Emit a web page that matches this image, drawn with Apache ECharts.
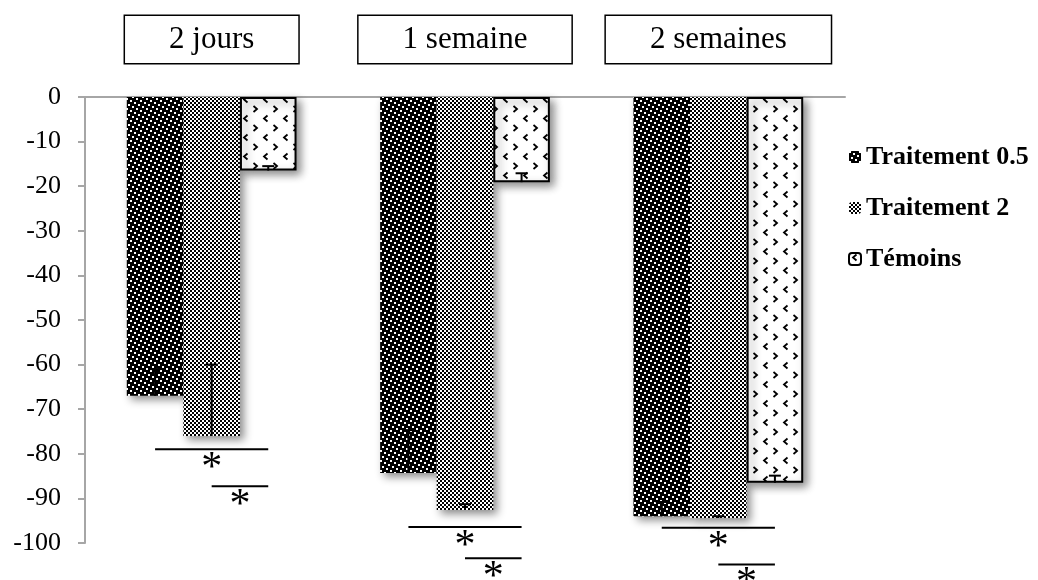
<!DOCTYPE html>
<html>
<head>
<meta charset="utf-8">
<script src="https://cdn.jsdelivr.net/npm/echarts@6/dist/echarts.min.js"></script>
<style>
  html, body { margin: 0; padding: 0; background: #fff; }
  #chart { width: 1038px; height: 580px; }
</style>
</head>
<body>
<div id="chart"></div>
<script>
// categories and values
const periods = ['2 jours', '1 semaine', '2 semaines'];
const seriesNames = ['Traitement 0.5', 'Traitement 2', 'Témoins'];
const traitement05 = [-67, -84.3, -94];
const traitement2 = [-76, -92.6, -94.4];
const temoins = [-16.5, -19.1, -86.5];
// error bars (drawn towards zero)
const err05 = [6, 9.6, 3.2];
const err2 = [16, 1.3, 0.4];
const errTem = [1, 2, 1.6];
// significance brackets: category, from bar, to bar, level
const sigCat = [0, 0, 1, 1, 2, 2];
const sigFrom = [0, 1, 0, 1, 0, 1];
const sigTo = [2, 2, 2, 2, 2, 2];
const sigLevel = [-79, -87.3, -96.4, -103.4, -96.6, -104.8];
const yTicks = { min: -100, max: 0, interval: 10 };

const GAP = 0.33;
const FONT = '"Liberation Serif", "Times New Roman", serif';

function makeCanvas(w, h, draw) {
  const c = document.createElement('canvas');
  c.width = w; c.height = h;
  const ctx = c.getContext('2d');
  ctx.fillStyle = '#fff';
  ctx.fillRect(0, 0, w, h);
  draw(ctx);
  return c;
}

function cellPattern(rows, cell) {
  return makeCanvas(rows[0].length * cell, rows.length * cell, ctx => {
    ctx.fillStyle = '#000';
    rows.forEach((r, y) => [...r].forEach((ch, x) => {
      if (ch === '1') ctx.fillRect(x * cell, y * cell, cell, cell);
    }));
  });
}

const darkPat = cellPattern(['01111', '11011', '11110', '10111', '11101'], 2);
const checkPat = cellPattern(['10', '01'], 2);
const dotPat = makeCanvas(20, 19, ctx => {
  ctx.strokeStyle = '#000';
  ctx.lineWidth = 1.8;
  ctx.beginPath();
  ctx.moveTo(7.5, 1.5); ctx.lineTo(4, 4.5); ctx.lineTo(7.5, 7.5);
  ctx.moveTo(13.5, 11); ctx.lineTo(17, 14); ctx.lineTo(13.5, 17);
  ctx.stroke();
});

const shadow = { shadowBlur: 8, shadowOffsetX: 4, shadowOffsetY: 4, shadowColor: 'rgba(0,0,0,0.45)' };

function barSeries(name, data, pat, border) {
  return {
    name: name,
    type: 'bar',
    data: data,
    barGap: '0%',
    barCategoryGap: (GAP * 100) + '%',
    itemStyle: Object.assign({
      color: { image: pat, repeat: 'repeat' },
      borderColor: '#000',
      borderWidth: border
    }, shadow),
    z: 2
  };
}

function errorSeries(idx, vals, errs) {
  return {
    type: 'custom',
    data: vals.map((v, i) => [i, v, errs[i]]),
    z: 5,
    clip: false,
    renderItem: (params, api) => {
      const cat = api.value(0), v = api.value(1), e = api.value(2);
      const bw = api.size([1, 0])[0] * (1 - GAP) / 3;
      const p0 = api.coord([cat, v]);
      const p1 = api.coord([cat, v + e]);
      const x = p0[0] + (idx - 1) * bw;
      const st = { stroke: '#000', lineWidth: 2 };
      return {
        type: 'group',
        children: [
          { type: 'line', shape: { x1: x, y1: p0[1], x2: x, y2: p1[1] }, style: st },
          { type: 'line', shape: { x1: x - 6, y1: p1[1], x2: x + 6, y2: p1[1] }, style: st }
        ]
      };
    }
  };
}

const sigSeries = {
  type: 'custom',
  data: sigCat.map((c, i) => [c, sigFrom[i], sigTo[i], sigLevel[i]]),
  z: 6,
  clip: false,
  renderItem: (params, api) => {
    const c = api.value(0);
    const bw = api.size([1, 0])[0] * (1 - GAP) / 3;
    const p = api.coord([c, api.value(3)]);
    const x1 = p[0] + (api.value(1) - 1) * bw;
    const x2 = p[0] + (api.value(2) - 1) * bw;
    return {
      type: 'group',
      children: [
        { type: 'line', shape: { x1: x1, y1: p[1], x2: x2, y2: p[1] }, style: { stroke: '#000', lineWidth: 2 } },
        { type: 'text', x: (x1 + x2) / 2, y: p[1] - 1,
          style: { text: '*', fontSize: 42, fontFamily: FONT, align: 'center', verticalAlign: 'top', fill: '#000' } }
      ]
    };
  }
};

const chart = echarts.init(document.getElementById('chart'));
chart.setOption({
  animation: false,
  backgroundColor: '#fff',
  grid: { left: 85, right: 193, top: 97, bottom: 37 },
  legend: {
    data: seriesNames,
    orient: 'vertical',
    left: 843,
    top: 137,
    itemWidth: 12,
    itemHeight: 12,
    itemGap: 21,
    textStyle: { fontFamily: FONT, fontSize: 26, fontWeight: 'bold', color: '#000', lineHeight: 30 }
  },
  xAxis: {
    type: 'category',
    position: 'top',
    data: periods,
    axisLine: { lineStyle: { color: '#a6a6a6', width: 2 } },
    axisTick: { inside: true, length: 5, lineStyle: { color: '#a6a6a6', width: 2 } },
    axisLabel: {
      margin: 34,
      fontFamily: FONT,
      fontSize: 31,
      color: '#000',
      borderColor: '#000',
      borderWidth: 1.5,
      padding: [8, 44],
      backgroundColor: '#fff'
    }
  },
  yAxis: {
    type: 'value',
    min: yTicks.min,
    max: yTicks.max,
    interval: yTicks.interval,
    splitLine: { show: false },
    axisLine: { show: true, lineStyle: { color: '#a6a6a6', width: 2 } },
    axisTick: { show: true, length: 7, lineStyle: { color: '#a6a6a6', width: 2 } },
    axisLabel: { margin: 24, fontFamily: FONT, fontSize: 26, color: '#000' }
  },
  series: [
    barSeries(seriesNames[0], traitement05, darkPat, 0),
    barSeries(seriesNames[1], traitement2, checkPat, 0),
    barSeries(seriesNames[2], temoins, dotPat, 2),
    errorSeries(0, traitement05, err05),
    errorSeries(1, traitement2, err2),
    errorSeries(2, temoins, errTem),
    sigSeries
  ]
});
</script>
</body>
</html>
